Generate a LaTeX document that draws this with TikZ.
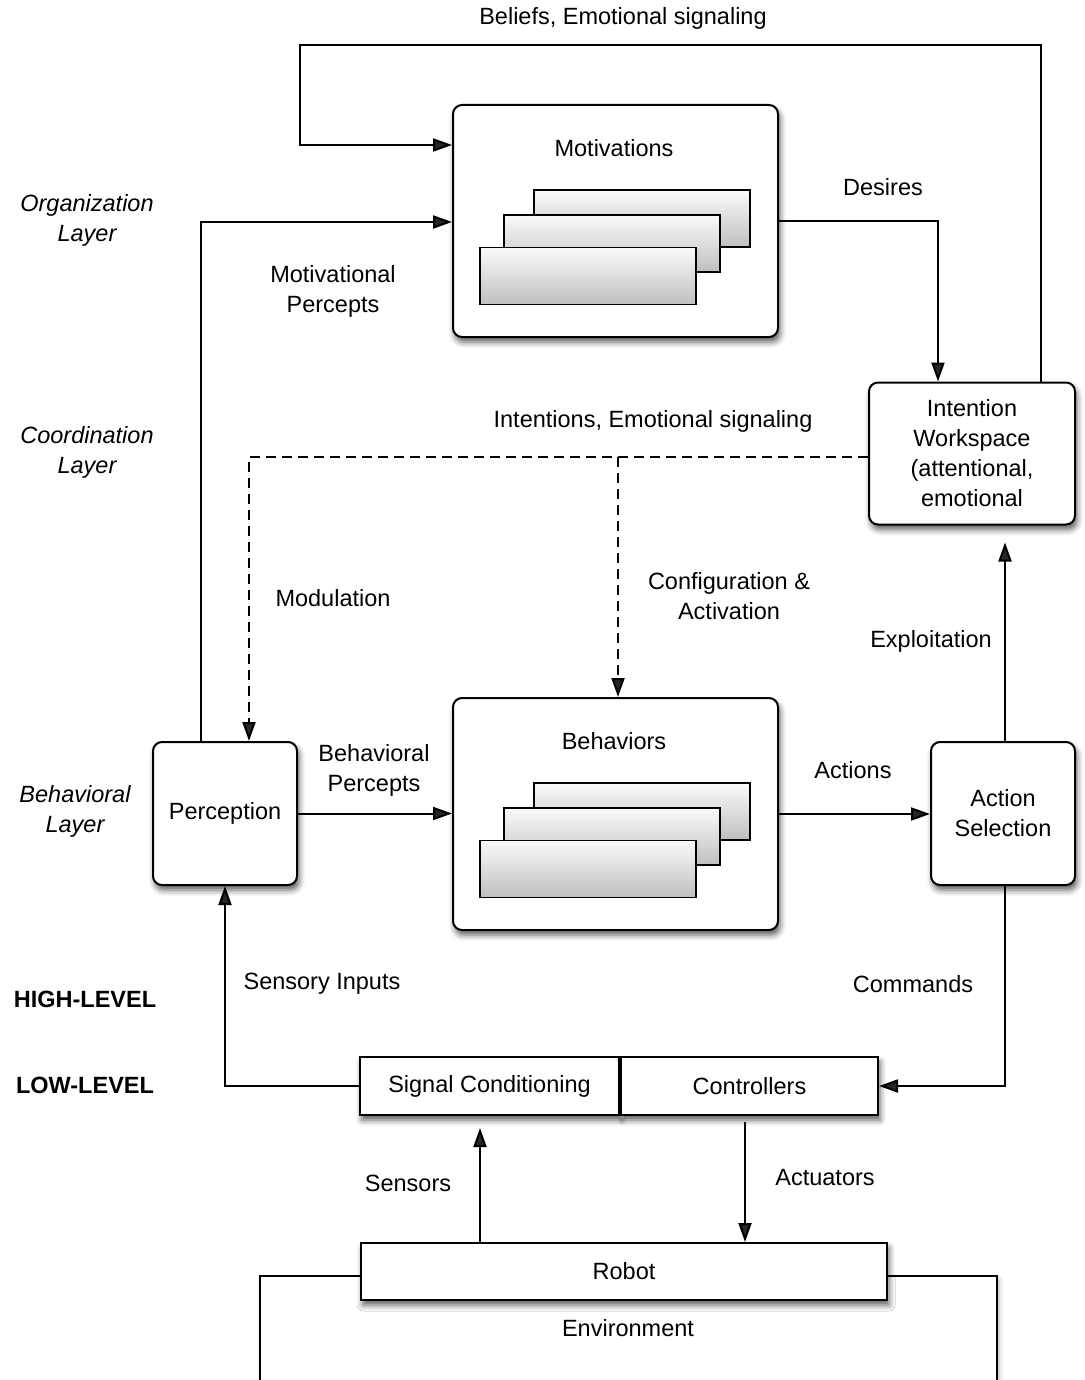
\documentclass[tikz,border=0pt]{standalone}
\usepackage{fontspec}
\setmainfont{Liberation Sans}
\usetikzlibrary{arrows.meta,shadows.blur}

\newcommand{\diagsize}{\fontsize{23.5}{30}\selectfont}

\begin{document}
\begin{tikzpicture}[x=1pt,y=-1pt]

    \tikzset{
      ModuleStyle/.style = { rectangle, rounded corners=9pt, draw, line width=2pt,
                             fill=white, inner sep=0pt, align=center, font=\diagsize,
                             blur shadow={shadow xshift=2pt, shadow yshift=-5pt,
                                          shadow blur radius=6pt, shadow opacity=65} },
      BlockStyle/.style = { ModuleStyle, sharp corners },
      StackStyle/.style = { rectangle, draw, line width=1.5pt, inner sep=0pt,
                            minimum width=216pt, minimum height=57pt,
                            top color=gray!4, bottom color=gray!50 },
      LabelStyle/.style = { font=\diagsize, align=center },
      LayerStyle/.style = { font=\diagsize\itshape, align=center },
      LevelStyle/.style = { font=\diagsize\bfseries },
      ArrowStyle/.style = { line width=2pt, -{Triangle[length=19pt,width=13pt]} },
      DashStyle/.style = { ArrowStyle, dash pattern=on 10pt off 6pt } }

      \useasboundingbox (0,0) rectangle (1084,1380);

      % organization layer
      \node[ModuleStyle, minimum width=325pt, minimum height=232pt] (motivations) at (615.5,221) {};
      \node[LabelStyle] (motivtitle) at (614,148) {Motivations};
      \foreach \i/\x/\y in {1/642/218.5, 2/612/243.5, 3/588/276}
        \node[StackStyle] (mstack\i) at (\x,\y) {};

      \node[ModuleStyle, minimum width=206pt, minimum height=142pt] (intention) at (972,453.5)
        {Intention\\Workspace\\(attentional,\\emotional};

      % behavioral layer
      \node[ModuleStyle, minimum width=325pt, minimum height=232pt] (behaviors) at (615.5,814) {};
      \node[LabelStyle] (behavtitle) at (614,741) {Behaviors};
      \foreach \i/\x/\y in {1/642/811.5, 2/612/836.5, 3/588/869}
        \node[StackStyle] (bstack\i) at (\x,\y) {};

      \node[ModuleStyle, minimum width=144pt, minimum height=143pt] (perception) at (225,813.5) {Perception};
      \node[ModuleStyle, minimum width=144pt, minimum height=143pt] (action) at (1003,813.5) {Action\\Selection};

      % low level
      \node[BlockStyle, minimum width=259pt, minimum height=58pt] (signal) at (489.5,1086) {Signal Conditioning};
      \node[BlockStyle, minimum width=257pt, minimum height=58pt] (controllers) at (749.5,1086) {Controllers};

      \draw[line width=2pt, fill=white,
            blur shadow={shadow xshift=2pt, shadow yshift=-4pt, shadow blur radius=5pt, shadow opacity=30}]
        (260,1395) -- (260,1276) -- (997,1276) -- (997,1395);
      \node[LabelStyle] (environment) at (628,1328) {Environment};
      \node[BlockStyle, minimum width=526pt, minimum height=57pt] (robot) at (624,1271.5) {Robot};

      \coordinate (branch) at (618,457);

      % connections
      \draw[ArrowStyle] (intention.north -| 1041,0) |- (300,45) |- (motivations.west |- 0,145);
      \draw[ArrowStyle] (perception.north -| 201,0) |- (motivations.west |- 0,222);
      \draw[ArrowStyle] (motivations.east) -| (intention.north -| 938,0);
      \draw[DashStyle] (intention.west |- branch) -| (perception.north -| 249,0);
      \draw[DashStyle] (branch) -- (behaviors.north -| branch);
      \draw[ArrowStyle] (perception.east) -- (perception.east -| behaviors.west);
      \draw[ArrowStyle] (behaviors.east) -- (behaviors.east -| action.west);
      \draw[ArrowStyle, shorten >=17pt] (action.north -| 1005,0) -- (intention.south -| 1005,0);
      \draw[ArrowStyle] (action.south -| 1005,0) |- (controllers.east);
      \draw[ArrowStyle] (signal.west) -| (perception.south);
      \draw[ArrowStyle, shorten >=12pt] (robot.north -| 480,0) -- (signal.south -| 480,0);
      \draw[ArrowStyle, shorten <=6pt] (controllers.south -| 745,0) -- (robot.north -| 745,0);

      % connection labels
      \node[LabelStyle] (beliefs) at (623,18) {Beliefs, Emotional signaling};
      \node[LabelStyle] (motpercepts) at (333,291) {Motivational\\Percepts};
      \node[LabelStyle] (desires) at (883,187) {Desires};
      \node[LabelStyle] (intentions) at (653,421) {Intentions, Emotional signaling};
      \node[LabelStyle] (modulation) at (333,598) {Modulation};
      \node[LabelStyle] (config) at (729,596) {Configuration \&\\Activation};
      \node[LabelStyle] (behpercepts) at (374,770) {Behavioral\\Percepts};
      \node[LabelStyle] (actions) at (853,770) {Actions};
      \node[LabelStyle] (exploitation) at (931,641) {Exploitation};
      \node[LabelStyle] (commands) at (913,984) {Commands};
      \node[LabelStyle] (sensory) at (322,984) {Sensory Inputs};
      \node[LabelStyle] (sensors) at (408,1183) {Sensors};
      \node[LabelStyle] (actuators) at (825,1178) {Actuators};

      % layers
      \node[LayerStyle] (orglayer) at (87,220) {Organization\\Layer};
      \node[LayerStyle] (coordlayer) at (87,452) {Coordination\\Layer};
      \node[LayerStyle] (behlayer) at (75,811) {Behavioral\\Layer};
      \node[LevelStyle] (highlevel) at (85,999) {HIGH-LEVEL};
      \node[LevelStyle] (lowlevel) at (85,1085) {LOW-LEVEL};

    \end{tikzpicture}
\end{document}
